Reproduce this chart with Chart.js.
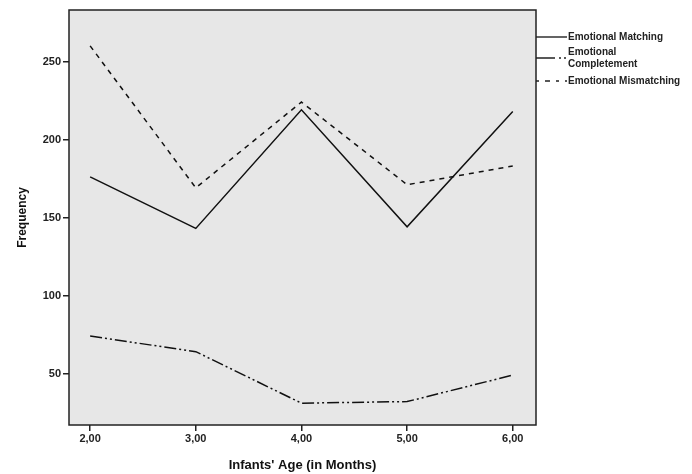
<!DOCTYPE html>
<html><head><meta charset="utf-8">
<script src="https://cdn.jsdelivr.net/npm/chart.js@4"></script>
<style>html,body{margin:0;padding:0;background:#fff}#wrap{width:692px;height:474px}</style>
</head><body><div id="wrap"><canvas id="c" width="692" height="474"></canvas></div>
<script>
const ages = [2, 3, 4, 5, 6];
const matching = [176, 143, 219, 144, 218];
const completement = [74, 64, 31, 32, 49];
const mismatching = [260, 169, 224, 171, 183];
const yTicks = [50, 100, 150, 200, 250];
const xTicks = [2, 3, 4, 5, 6];
const seriesNames = ['Emotional Matching', 'Emotional Completement', 'Emotional Mismatching'];

const pts = arr => ages.map((a, i) => ({x: a, y: arr[i]}));
const FONT = '"Liberation Sans", Arial, sans-serif';

const boxPlugin = {
  id: 'box',
  beforeDraw(chart) {
    const {ctx, chartArea: a} = chart;
    ctx.save();
    ctx.fillStyle = '#e7e7e7';
    ctx.fillRect(a.left, a.top, a.right - a.left, a.bottom - a.top);
    ctx.restore();
  },
  afterDraw(chart) {
    const {ctx, chartArea: a} = chart;
    ctx.save();
    ctx.strokeStyle = '#222';
    ctx.lineWidth = 1.5;
    ctx.strokeRect(a.left, a.top, a.right - a.left, a.bottom - a.top);
    // legend
    const x0 = a.right, x1 = a.right + 31;
    ctx.font = 'bold 10px ' + FONT;
    ctx.fillStyle = '#222';
    ctx.textBaseline = 'middle';
    ctx.lineWidth = 1.4;
    const styles = [[], [19, 4, 2, 3, 2, 3], [3, 6, 5, 6]];
    const lineY = [37, 58, 81];
    styles.forEach((d, i) => {
      ctx.setLineDash(d);
      ctx.beginPath(); ctx.moveTo(x0, lineY[i]); ctx.lineTo(x1, lineY[i]); ctx.stroke();
    });
    ctx.setLineDash([]);
    ctx.fillText(seriesNames[0], x1 + 1, 37);
    ctx.fillText('Emotional', x1 + 1, 52);
    ctx.fillText('Completement', x1 + 1, 64);
    ctx.fillText(seriesNames[2], x1 + 1, 81);
    ctx.restore();
  }
};

const ds = (label, arr, dash) => ({
  label, data: pts(arr), borderColor: '#111', borderWidth: 1.5,
  borderDash: dash, pointRadius: 0, fill: false, tension: 0
});

new Chart(document.getElementById('c'), {
  type: 'line',
  data: {datasets: [
    ds(seriesNames[0], matching, []),
    ds(seriesNames[1], completement, [12, 3, 2, 3, 2, 3]),
    ds(seriesNames[2], mismatching, [5, 5])
  ]},
  options: {
    responsive: false, animation: false,
    layout: {padding: {left: 0, right: 156, top: 10, bottom: 0}},
    plugins: {legend: {display: false}, tooltip: {enabled: false}},
    scales: {
      x: {
        type: 'linear', min: 1.8, max: 6.22,
        afterBuildTicks: s => { s.ticks = xTicks.map(v => ({value: v})); },
        afterFit: s => { s.height = 49; },
        grid: {drawOnChartArea: false, drawTicks: true, tickLength: 6, color: '#222', lineWidth: 1.5},
        border: {display: false},
        ticks: {color: '#222', font: {family: FONT, size: 11, weight: 'bold'}, padding: 1,
          callback: v => v.toFixed(2).replace('.', ',')},
        title: {display: true, text: "Infants' Age (in Months)", color: '#111',
          font: {family: FONT, size: 13, weight: 'bold'}, padding: {top: 2, bottom: 1}}
      },
      y: {
        min: 17, max: 283,
        afterBuildTicks: s => { s.ticks = yTicks.map(v => ({value: v})); },
        afterFit: s => { s.width = 69; },
        grid: {drawOnChartArea: false, drawTicks: true, tickLength: 6, color: '#222', lineWidth: 1.5},
        border: {display: false},
        ticks: {color: '#222', font: {family: FONT, size: 11, weight: 'bold'}, padding: 2},
        title: {display: true, text: 'Frequency', color: '#111',
          font: {family: FONT, size: 12, weight: 'bold'}, padding: {top: 15, bottom: 4}}
      }
    }
  },
  plugins: [boxPlugin]
});
</script></body></html>
